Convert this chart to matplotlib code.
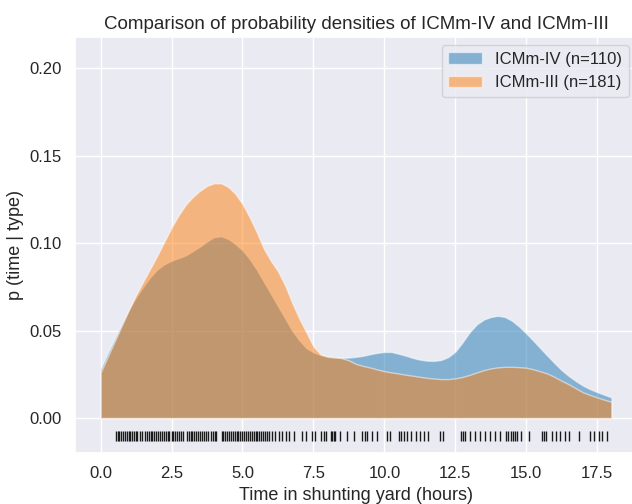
#!/usr/bin/env python3
"""
Compare the shunting-yard time densities of ICMm-IV and ICMm-III
"""

import matplotlib
matplotlib.use('Agg')
import matplotlib.pyplot as plt
import seaborn as sns
import numpy as np

# hours grid the densities were read at
hours = np.arange(0, 18.01, 0.25)

# p(time | ICMm-IV)
dens_iv = [0.028, 0.037, 0.0455, 0.054, 0.062, 0.069, 0.075, 0.0805, 0.085, 0.088,
           0.090, 0.0915, 0.093, 0.0955, 0.098, 0.101, 0.1035, 0.104, 0.1025, 0.0995,
           0.096, 0.091, 0.085, 0.078, 0.071, 0.064, 0.057, 0.050, 0.0445, 0.040,
           0.0376, 0.036, 0.0354, 0.0348, 0.0345, 0.0346, 0.035, 0.0356, 0.0365, 0.0373,
           0.0378, 0.0378, 0.0368, 0.0357, 0.0344, 0.0334, 0.0328, 0.0327, 0.0332, 0.0349,
           0.038, 0.0432, 0.049, 0.0535, 0.0563, 0.0578, 0.0585, 0.0578, 0.0556, 0.0523,
           0.0484, 0.0442, 0.0398, 0.0355, 0.0313, 0.0273, 0.024, 0.0211, 0.0185, 0.0165,
           0.0148, 0.0133, 0.0118]

# p(time | ICMm-III)
dens_iii = [0.026, 0.035, 0.044, 0.053, 0.062, 0.0705, 0.078, 0.0855, 0.093, 0.101,
            0.109, 0.116, 0.122, 0.1265, 0.130, 0.1328, 0.1343, 0.1343, 0.1322, 0.1283,
            0.1225, 0.115, 0.1065, 0.097, 0.090, 0.084, 0.076, 0.066, 0.057, 0.049,
            0.041, 0.0365, 0.035, 0.0347, 0.0343, 0.033, 0.031, 0.0298, 0.0289, 0.0278,
            0.0268, 0.0261, 0.0255, 0.0248, 0.0242, 0.0236, 0.023, 0.0226, 0.0223, 0.0223,
            0.0227, 0.0235, 0.0247, 0.0261, 0.0274, 0.0284, 0.029, 0.0293, 0.0293, 0.0291,
            0.0288, 0.0279, 0.0267, 0.0254, 0.0235, 0.0213, 0.0193, 0.017, 0.0147, 0.0132,
            0.0118, 0.0105, 0.0093]

# observed times (rug)
obs_times = [0.53, 0.6, 0.66, 0.72, 0.8, 0.85, 0.92, 1.0, 1.05, 1.12, 1.18, 1.25, 1.3, 1.38, 1.45,
             1.57, 1.63, 1.7, 1.76, 1.82, 1.9, 1.95, 2.02, 2.1, 2.15, 2.22, 2.3, 2.36, 2.42, 2.5,
             2.55, 2.62, 2.7, 2.76, 2.83, 2.9,
             3.03, 3.1, 3.17, 3.22, 3.3, 3.38, 3.45, 3.5, 3.58, 3.65, 3.72, 3.8, 3.88, 3.95, 4.02, 4.08,
             4.27, 4.33, 4.4, 4.46, 4.52, 4.6, 4.66, 4.72, 4.8, 4.86, 4.92, 5.0, 5.05, 5.12, 5.2,
             5.26, 5.32, 5.4, 5.46, 5.52, 5.6, 5.66, 5.72, 5.8, 5.88, 5.95, 6.05, 6.15, 6.28, 6.4,
             6.52, 6.65, 6.8,
             7.1, 7.25, 7.45, 7.54, 7.75, 7.86, 7.96, 8.12, 8.17, 8.22, 8.27, 8.45, 8.69, 8.94,
             9.21, 9.3, 9.39, 9.57, 9.75, 10.1, 10.21, 10.5, 10.6, 10.7, 10.8, 10.95, 11.1, 11.25,
             11.4, 11.55, 11.97, 12.08, 12.7, 12.78, 12.85, 13.03, 13.2, 13.38, 13.55, 13.73, 13.9,
             14.08, 14.3, 14.37, 14.45, 14.52, 14.6, 14.68, 14.8, 15.1, 15.55, 15.62, 15.7, 15.9,
             16.05, 16.2, 16.35, 16.5, 16.85, 17.25, 17.37, 17.55, 17.66, 17.84]

labels = ['ICMm-IV (n=110)', 'ICMm-III (n=181)']
colors = ['#1f77b4', '#ff7f0e']

sns.set_theme(style='darkgrid')
plt.rcParams['font.family'] = ['Liberation Sans', 'DejaVu Sans']

fig = plt.figure(figsize=(6.32, 5.04), dpi=100)
ax = fig.add_axes([75 / 632, 51 / 504, 562 / 632, 416 / 504])

# facecolor only, so seaborn's white patch edge stays (light seam like the original)
ax.fill_between(hours, dens_iv, facecolor=colors[0], alpha=0.5, label=labels[0])
ax.fill_between(hours, dens_iii, facecolor=colors[1], alpha=0.5, label=labels[1])
ax.plot(obs_times, [-0.01] * len(obs_times), '|k', markersize=6.5, markeredgewidth=1.0)

ax.set_xlim(-0.9, 18.9)
ax.set_ylim(-0.02, 0.218)
ax.set_xticks(np.arange(0, 18, 2.5))
ax.set_yticks([0.0, 0.05, 0.10, 0.15, 0.20])
ax.tick_params(labelsize=12)

ax.set_title('Comparison of probability densities of ICMm-IV and ICMm-III', fontsize=13.5)
ax.set_xlabel('Time in shunting yard (hours)', fontsize=13)
ax.set_ylabel('p (time | type)', fontsize=13)
ax.legend(loc='upper right', fontsize=12)

fig.savefig('out.png', dpi=100)
